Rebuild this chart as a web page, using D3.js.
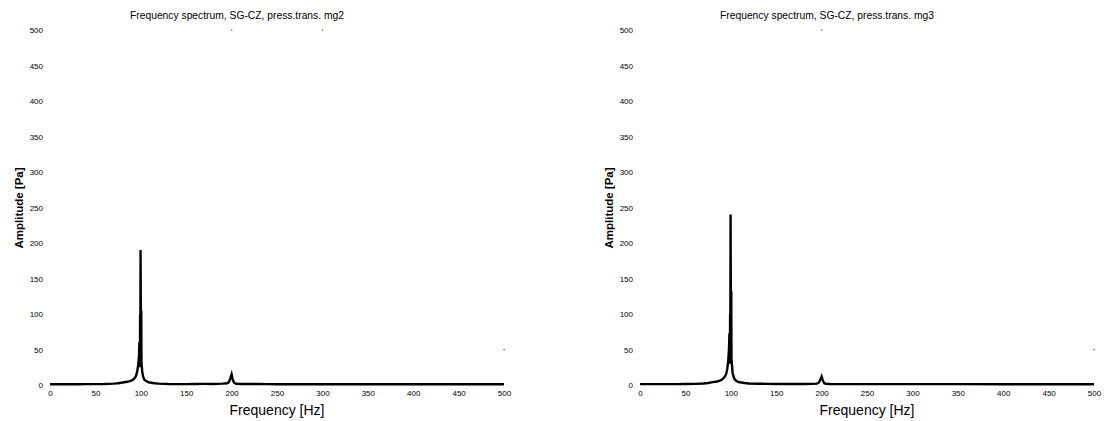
<!DOCTYPE html>
<html>
<head>
<meta charset="utf-8">
<script src="https://cdn.jsdelivr.net/npm/d3@7"></script>
<style>
  html, body { margin: 0; padding: 0; background: #fff; }
  svg { display: block; }
  text { font-family: "Liberation Sans", Arial, sans-serif; fill: #000; }
</style>
</head>
<body>
<svg id="chart" width="1104" height="421"></svg>
<script>
// Frequency axis samples [Hz] shared by both spectra
const freq = [0, 10, 20, 30, 40, 50, 60, 70, 75, 80, 85, 88, 90, 92, 94, 95, 96, 97, 98,
  98.5, 99, 99.25, 99.5, 99.75, 100, 100.25, 100.5, 100.75, 101, 101.5, 102, 103, 104, 106,
  108, 110, 115, 120, 130, 140, 150, 160, 170, 180, 190, 195, 197, 198, 199, 200, 201, 202,
  203, 205, 210, 220, 230, 240, 250, 300, 350, 400, 450, 500];

// Amplitude [Pa], pressure transducer mg2
const ampMg2 = [1, 1, 1, 1, 1.2, 1.3, 1.5, 2, 2.5, 3.5, 4.5, 5.5, 6.5, 8, 11, 14, 19, 27, 40,
  60, 25, 100, 60, 190, 105, 70, 105, 30, 28, 20, 15, 10, 7.5, 5.5,
  4, 3.5, 2.5, 2, 1.5, 1.3, 1.2, 1.5, 1.6, 1.5, 2, 2.5, 4, 7, 11, 15, 9, 5,
  3, 1.8, 1.5, 1.5, 1.5, 1.2, 1, 1, 1, 1, 1, 1];

// Amplitude [Pa], pressure transducer mg3
const ampMg3 = [1.2, 1.2, 1.2, 1.2, 1.3, 1.4, 1.6, 2.2, 2.8, 4, 5, 6, 7.5, 9.5, 13, 16, 22, 32, 50,
  73, 30, 100, 73, 240, 132, 80, 132, 36, 34, 24, 17, 12, 8.5, 6,
  4.5, 3.8, 2.8, 2.2, 1.8, 1.6, 1.5, 1.4, 1.4, 1.4, 1.6, 2, 3.5, 6, 9, 12, 8, 4.5,
  2.5, 1.6, 1.4, 1.3, 1.3, 1.3, 1.2, 1.2, 1.2, 1.1, 1.1, 1.1];

const xTicks = [0, 50, 100, 150, 200, 250, 300, 350, 400, 450, 500];
const yTicks = [0, 50, 100, 150, 200, 250, 300, 350, 400, 450, 500];

const titles = ["Frequency spectrum, SG-CZ, press.trans. mg2",
                "Frequency spectrum, SG-CZ, press.trans. mg3"];
const xLabel = "Frequency [Hz]";
const yLabel = "Amplitude [Pa]";

// Small stray tick marks along the frame
const marksMg2 = [[200, 500], [300, 500], [500, 50], [300, 0], [400, 0]];
const marksMg3 = [[200, 500], [500, 50]];

const svg = d3.select("#chart");

function panel(x0, x1, title, amps, marks) {
  const top = 30, bottom = 385;
  const x = d3.scaleLinear().domain([0, 500]).range([x0, x1]);
  const y = d3.scaleLinear().domain([0, 500]).range([bottom, top]);
  const g = svg.append("g");

  // title
  g.append("text")
    .attr("x", (x0 + x1) / 2 - 40)
    .attr("y", 19)
    .attr("text-anchor", "middle")
    .style("font-size", "10.3px")
    .text(title);

  // y tick labels (no axis line)
  const yAxis = d3.axisLeft(y).tickValues(yTicks).tickSize(0).tickPadding(7);
  const ya = g.append("g").attr("transform", `translate(${x0},0)`).call(yAxis);
  ya.select(".domain").remove();
  ya.selectAll("text").style("font-size", "8px").attr("font-family", null);

  // x tick labels
  const xAxis = d3.axisBottom(x).tickValues(xTicks).tickSize(0).tickPadding(5);
  const xa = g.append("g").attr("transform", `translate(0,${bottom})`).call(xAxis);
  xa.select(".domain").remove();
  xa.selectAll("text").style("font-size", "8px").attr("font-family", null);

  // axis titles
  g.append("text")
    .attr("x", (x0 + x1) / 2)
    .attr("y", 415)
    .attr("text-anchor", "middle")
    .style("font-size", "14px")
    .text(xLabel);
  g.append("text")
    .attr("transform", `translate(${x0 - 27},208) rotate(-90)`)
    .attr("text-anchor", "middle")
    .style("font-size", "11.5px")
    .style("font-weight", "bold")
    .text(yLabel);

  // spectrum line
  const pts = freq.map((f, i) => [f, amps[i]]);
  const line = d3.line().x(d => x(d[0])).y(d => y(d[1]));
  g.append("path")
    .datum(pts)
    .attr("d", line)
    .attr("fill", "none")
    .attr("stroke", "#000")
    .attr("stroke-width", 2.4)
    .attr("stroke-linejoin", "miter");

  // stray marks
  g.selectAll("rect.mark").data(marks).enter().append("rect")
    .attr("class", "mark")
    .attr("x", d => x(d[0]) - 0.5)
    .attr("y", d => y(d[1]) - 0.5)
    .attr("width", 1.2)
    .attr("height", 1.2)
    .attr("fill", "#444");
}

panel(50, 504, titles[0], ampMg2, marksMg2);
panel(640, 1094, titles[1], ampMg3, marksMg3);
</script>
</body>
</html>
